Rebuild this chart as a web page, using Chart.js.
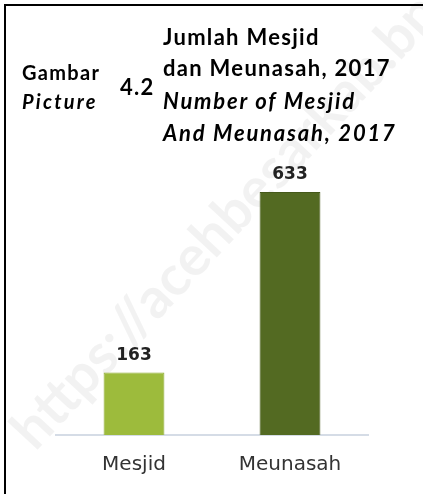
<!DOCTYPE html>
<html>
<head>
<meta charset="utf-8">
<script src="https://cdn.jsdelivr.net/npm/chart.js@4.4.0/dist/chart.umd.min.js"></script>
<style>
  html, body { margin: 0; padding: 0; background: #fff; }
  #wrap { position: relative; width: 423px; height: 494px; overflow: hidden; }
  #frame { position: absolute; left: 4px; top: 4px; width: 430px; height: 500px;
           border-top: 2px solid #000; border-left: 2px solid #000; }
  canvas { position: absolute; left: 0; top: 0; }
  .t { position: absolute; font-family: Lato, "Open Sans", sans-serif; font-weight: bold;
       color: #000; white-space: nowrap; line-height: 32px; letter-spacing: 1.3px; }
  .i { font-style: italic; letter-spacing: 1.8px; }
</style>
</head>
<body>
<div id="wrap">
  <canvas id="c" width="423" height="494"></canvas>
  <div id="frame"></div>
  <div class="t" style="left:22px; top:56px; font-size:20px;">Gambar</div>
  <div class="t i" style="left:22px; top:85px; font-size:20px; letter-spacing:2.2px;">Picture</div>
  <div class="t" style="left:120px; top:71px; font-size:22px;">4.2</div>
  <div class="t" style="left:163px; top:21px; font-size:22px;">Jumlah Mesjid</div>
  <div class="t" style="left:163px; top:52px; font-size:22px;">dan Meunasah, 2017</div>
  <div class="t i" style="left:163px; top:85px; font-size:22px;">Number of Mesjid</div>
  <div class="t i" style="left:163px; top:117px; font-size:22px;">And Meunasah, 2017</div>
</div>
<script>
const categories = ["Mesjid", "Meunasah"];
const values = [163, 633];
const barColors = ["#9dbb3c", "#536a22"];
const barBorders = ["#8eab33", "#45591b"];

const watermark = {
  id: 'watermark',
  beforeDraw(chart) {
    const ctx = chart.ctx;
    ctx.save();
    ctx.translate(22, 440);
    ctx.rotate(-47 * Math.PI / 180);
    ctx.font = 'bold 56px Lato, sans-serif';
    ctx.fillStyle = 'rgba(0,0,0,0.05)';
    ctx.textAlign = 'left';
    ctx.textBaseline = 'middle';
    ctx.fillText('https://acehbesarkab.bps.go.id', 0, 0);
    ctx.restore();
  }
};

const valueLabels = {
  id: 'valueLabels',
  afterDatasetsDraw(chart) {
    const ctx = chart.ctx;
    const meta = chart.getDatasetMeta(0);
    ctx.save();
    ctx.font = 'bold 17px "DejaVu Sans", sans-serif';
    ctx.fillStyle = '#222';
    ctx.textAlign = 'center';
    ctx.textBaseline = 'middle';
    meta.data.forEach((bar, i) => {
      ctx.fillText(String(values[i]), bar.x, bar.y - 17);
    });
    ctx.restore();
  }
};

new Chart(document.getElementById('c'), {
  type: 'bar',
  data: {
    labels: categories,
    datasets: [{
      data: values,
      backgroundColor: barColors,
      borderColor: barBorders,
      borderWidth: 1,
      barPercentage: 0.39,
      categoryPercentage: 1.0
    }]
  },
  options: {
    responsive: false,
    animation: false,
    layout: { padding: { left: 56, right: 55, top: 147, bottom: 7 } },
    plugins: { legend: { display: false }, tooltip: { enabled: false } },
    scales: {
      x: {
        grid: { display: false },
        border: { display: true, color: '#d5dce6', width: 2 },
        ticks: { color: '#333', font: { family: '"DejaVu Sans", sans-serif', size: 20 }, padding: 10 }
      },
      y: {
        display: false,
        min: 0,
        max: 750
      }
    }
  },
  plugins: [watermark, valueLabels]
});
</script>
</body>
</html>
